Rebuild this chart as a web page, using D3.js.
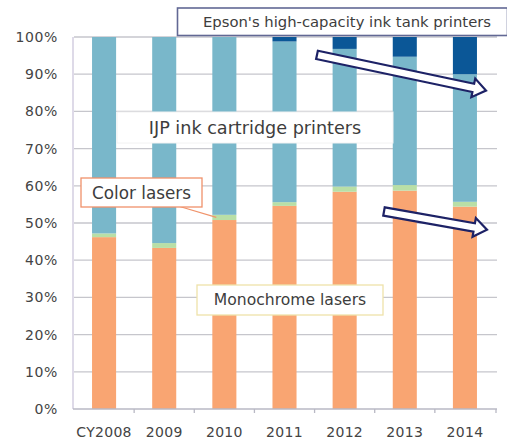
<!DOCTYPE html>
<html>
<head>
<meta charset="utf-8">
<script src="https://cdn.jsdelivr.net/npm/d3@7"></script>
<style>
  html, body { margin: 0; padding: 0; background: #fff; }
  svg { display: block; font-family: "DejaVu Sans", Verdana, sans-serif; }
</style>
</head>
<body>
<svg id="chart" width="507" height="443"></svg>
<script>
// Printer market share by type, calendar years 2008–2014 (percent of units)
const years = ["CY2008", "2009", "2010", "2011", "2012", "2013", "2014"];
const monochromeLasers = [46.2, 43.3, 50.8, 54.6, 58.4, 58.7, 54.4];
const colorLasers      = [1.0, 1.3, 1.4, 1.0, 1.4, 1.5, 1.3];
const inkTankPrinters  = [0, 0, 0, 1.2, 3.2, 5.3, 10.0];
const inkCartridge     = years.map((_, i) =>
  100 - monochromeLasers[i] - colorLasers[i] - inkTankPrinters[i]);
const yTicks = [0, 10, 20, 30, 40, 50, 60, 70, 80, 90, 100];

const seriesKeys = ["mono", "color", "ijp", "tank"];
const seriesColors = { mono: "#F9A572", color: "#B9DFA6", ijp: "#79B7CA", tank: "#0B5797" };

const rows = years.map((yr, i) => ({
  year: yr,
  mono: monochromeLasers[i],
  color: colorLasers[i],
  ijp: inkCartridge[i],
  tank: inkTankPrinters[i]
}));

const svg = d3.select("#chart");
const plot = { left: 74, right: 495, top: 37, bottom: 409 };

const x = d3.scaleBand().domain(years)
  .range([plot.left, plot.right]).paddingInner(0.6).paddingOuter(0.3);
const y = d3.scaleLinear().domain([0, 100]).range([plot.bottom, plot.top]);

// horizontal gridlines
svg.append("g").selectAll("line").data(yTicks.filter(d => d > 0)).join("line")
  .attr("x1", plot.left).attr("x2", plot.right + 2)
  .attr("y1", d => y(d)).attr("y2", d => y(d))
  .attr("stroke", "#c6c6cc").attr("stroke-width", 1.3);

// left axis line
svg.append("line")
  .attr("x1", plot.left - 1).attr("x2", plot.left - 1)
  .attr("y1", plot.top).attr("y2", plot.bottom)
  .attr("stroke", "#cdc6dc").attr("stroke-width", 1.3);

// y tick labels
const yAxis = d3.axisLeft(y).tickValues(yTicks).tickFormat(d => d + "%").tickSize(0).tickPadding(16);
const gy = svg.append("g").attr("transform", `translate(${plot.left},0)`).call(yAxis);
gy.select(".domain").remove();
gy.selectAll("text").attr("font-size", 14).attr("fill", "#444")
  .attr("font-family", "DejaVu Sans, sans-serif").attr("letter-spacing", 0.6);

// stacked bars
const stack = d3.stack().keys(seriesKeys)(rows);
svg.append("g").selectAll("g").data(stack).join("g")
  .attr("fill", d => seriesColors[d.key])
  .selectAll("rect").data(d => d).join("rect")
  .attr("x", d => x(d.data.year))
  .attr("width", x.bandwidth())
  .attr("y", d => y(d[1]))
  .attr("height", d => Math.max(0, y(d[0]) - y(d[1])));

// x axis baseline with category separators
const xAxis = d3.axisBottom(x).tickSize(0).tickPadding(18);
const gx = svg.append("g").attr("transform", `translate(0,${plot.bottom})`).call(xAxis);
gx.select(".domain").attr("stroke", "#b8b8c4").attr("stroke-width", 1.3)
  .attr("d", `M${plot.left - 1},0H${plot.right + 2}`);
gx.selectAll("text").attr("font-size", 14).attr("fill", "#444")
  .attr("font-family", "DejaVu Sans, sans-serif").attr("letter-spacing", 0.3);
const step = x.step();
svg.append("g").selectAll("line").data(years.slice(1)).join("line")
  .attr("x1", d => x(d) - (step - x.bandwidth()) / 2)
  .attr("x2", d => x(d) - (step - x.bandwidth()) / 2)
  .attr("y1", plot.bottom).attr("y2", plot.bottom + 4)
  .attr("stroke", "#b8b8c4").attr("stroke-width", 1.3);
svg.append("line").attr("x1", plot.right + 1).attr("x2", plot.right + 1)
  .attr("y1", plot.bottom).attr("y2", plot.bottom + 4)
  .attr("stroke", "#b8b8c4").attr("stroke-width", 1.3);

// hollow trend arrows
function hollowArrow(x0, y0, x1, y1) {
  const dx = x1 - x0, dy = y1 - y0, len = Math.hypot(dx, dy);
  const ux = dx / len, uy = dy / len, nx = -uy, ny = ux;
  const shaft = 4.2, head = 9.5, headLen = 13;
  const bx = x1 - ux * headLen, by = y1 - uy * headLen;
  const pts = [
    [x0 + nx * shaft, y0 + ny * shaft],
    [bx + nx * shaft, by + ny * shaft],
    [bx + nx * head, by + ny * head],
    [x1, y1],
    [bx - nx * head, by - ny * head],
    [bx - nx * shaft, by - ny * shaft],
    [x0 - nx * shaft, y0 - ny * shaft]
  ];
  svg.append("path")
    .attr("d", "M" + pts.map(p => p.join(",")).join("L") + "Z")
    .attr("fill", "#fff").attr("stroke", "#1d2266")
    .attr("stroke-width", 2.2).attr("stroke-linejoin", "miter");
}
hollowArrow(317, y(95.2), 486, y(85.6));
hollowArrow(384, y(53.1), 487, y(48.2));

// annotation boxes
function labelBox(x0, y0, w, h, text, size, stroke, sw) {
  const g = svg.append("g");
  g.append("rect").attr("x", x0).attr("y", y0).attr("width", w).attr("height", h)
    .attr("fill", "#fff").attr("stroke", stroke).attr("stroke-width", sw);
  g.append("text").attr("x", x0 + w / 2).attr("y", y0 + h / 2)
    .attr("text-anchor", "middle").attr("dominant-baseline", "central")
    .attr("font-size", size).attr("fill", "#3d3d3d").text(text);
  return g;
}

labelBox(177.5, 8, 330, 27.5, "Epson's high-capacity ink tank printers", 14.8, "#626894", 1.6)
  .select("text").attr("x", 347);
labelBox(117, 112, 276, 31, "IJP ink cartridge printers", 17.6, "#f2f2f2", 1);

// pointer from the colour-laser label to the thin green band
svg.append("line").attr("x1", 178).attr("y1", 206)
  .attr("x2", x("2010") + 4).attr("y2", y(50.8 + 0.7))
  .attr("stroke", "#f0946c").attr("stroke-width", 1.2);
labelBox(81, 178, 121, 29, "Color lasers", 16.8, "#f0916a", 1.3);
labelBox(197, 285, 186, 30, "Monochrome lasers", 15.6, "#eee2aa", 1.3);
</script>
</body>
</html>
